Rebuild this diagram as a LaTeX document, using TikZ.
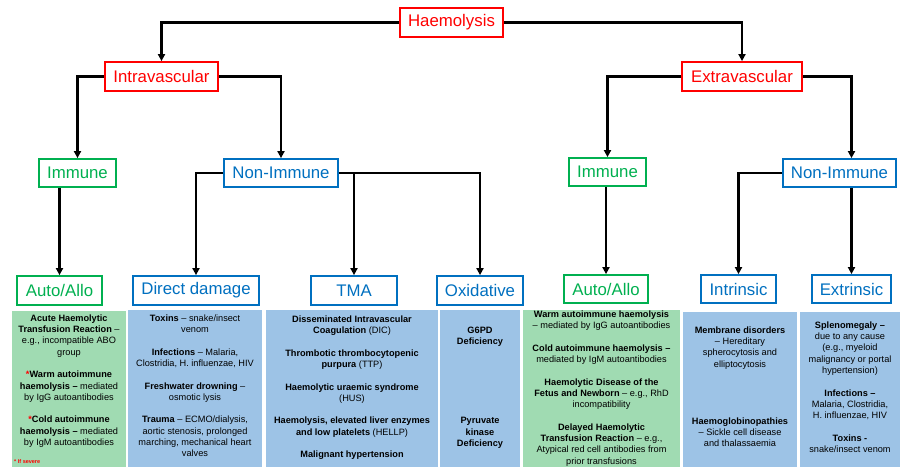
\documentclass[tikz,border=0pt]{standalone}
\usepackage{fontspec}
\setmainfont{Liberation Sans}
\usetikzlibrary{arrows.meta}
\definecolor{hred}{RGB}{255,0,0}
\definecolor{hgreen}{RGB}{0,176,80}
\definecolor{hblue}{RGB}{0,112,192}
\definecolor{gfill}{RGB}{160,219,178}
\definecolor{bfill}{RGB}{157,195,230}
\begin{document}
\begin{tikzpicture}[x=1pt,y=-1pt,
lab/.style={draw, line width=1.8pt, fill=white, inner sep=0pt, font=\fontsize{16.8}{18}\selectfont},
redlab/.style={lab, draw=hred, text=hred},
grnlab/.style={lab, draw=hgreen, text=hgreen},
blulab/.style={lab, draw=hblue, text=hblue},
card/.style={inner sep=0pt, draw=none},
info/.style={inner sep=0pt, align=center, anchor=north, text=black, font=\fontsize{9.2}{11.3}\selectfont},
arr/.style={line width=2.2pt, -{Triangle[length=7pt,width=7pt]}}]
\useasboundingbox (0,0) rectangle (904,472);
\node[redlab, minimum width=103, minimum height=29] (haem) at (451.5,22.5){Haemolysis};
\node[redlab, minimum width=113, minimum height=29] (intra) at (161.5,76.5){Intravascular};
\node[redlab, minimum width=120, minimum height=29] (extra) at (742,76.5){Extravascular};
\draw[arr](haem.west) -| (intra.north);
\draw[arr](haem.east) -| (extra.north);
\node[grnlab, minimum width=77, minimum height=28] (imm1) at (77.5,173){Immune};
\node[blulab, minimum width=114, minimum height=28] (non1) at (281,173){Non-Immune};
\draw[arr](intra.west) -| (imm1.north);
\draw[arr](intra.east) -| (non1.north);
\node[grnlab, minimum width=77, minimum height=28] (imm2) at (607.5,172){Immune};
\node[blulab, minimum width=113, minimum height=28] (non2) at (839.5,173){Non-Immune};
\node[grnlab, minimum width=85, minimum height=29] (aa1) at (59.5,290.5){Auto/Allo};
\draw[arr](imm1.south -| aa1.north) -- (aa1.north);
\node[blulab, minimum width=126, minimum height=29] (dmg) at (196,290.5){Direct damage};
\node[blulab, minimum width=86, minimum height=29] (tma) at (354,290.5){TMA};
\node[blulab, minimum width=86, minimum height=29] (oxi) at (480,290.5){Oxidative};
\draw[arr](non1.west) -| (dmg.north);
\draw[arr](non1.east -| tma.north) -- (tma.north);
\draw[arr](non1.east) -| (oxi.north);
\node[grnlab, minimum width=84, minimum height=28] (aa2) at (606,289){Auto/Allo};
\node[blulab, minimum width=75, minimum height=28] (intr) at (738.5,289){Intrinsic};
\node[blulab, minimum width=79, minimum height=28] (extr) at (851.5,289){Extrinsic};
\draw[arr](extra.west) -| (imm2.north);
\draw[arr](extra.east) -| (non2.north -| extr.north);
\draw[arr](imm2.south -| aa2.north) -- (aa2.north);
\draw[arr](non2.west) -| (intr.north);
\draw[arr](non2.south -| extr.north) -- (extr.north);
\node[card, fill=gfill, minimum width=114, minimum height=156] (b1) at (69,389){};
\node[info] (t1) at (69,314.4){\textbf{Acute Haemolytic}\\ \textbf{Transfusion Reaction} --\\ e.g., incompatible ABO\\ group\\[11.3pt] \textcolor{hred}{\textbf{*}}\textbf{Warm autoimmune}\\ \textbf{haemolysis --} mediated\\ by IgG autoantibodies\\[11.3pt] \textcolor{hred}{\textbf{*}}\textbf{Cold autoimmune}\\ \textbf{haemolysis --} mediated\\ by IgM autoantibodies};
\node[anchor=west, inner sep=0pt, text=hred, font=\fontsize{5.5}{6}\selectfont\bfseries] (sev) at (14,462){* If severe};
\node[card, fill=bfill, minimum width=134, minimum height=157] (b2) at (195,388.5){};
\node[info] (t2) at (195,314.4){\textbf{Toxins} -- snake/insect\\ venom\\[11.3pt] \textbf{Infections} -- Malaria,\\ Clostridia, H. influenzae, HIV\\[11.3pt] \textbf{Freshwater drowning} --\\ osmotic lysis\\[11.3pt] \textbf{Trauma} -- ECMO/dialysis,\\ aortic stenosis, prolonged\\ marching, mechanical heart\\ valves};
\node[card, fill=bfill, minimum width=172, minimum height=157] (b3) at (352,388.5){};
\node[info] (t3) at (352,315.4){\textbf{Disseminated Intravascular}\\ \textbf{Coagulation} (DIC)\\[11.3pt] \textbf{Thrombotic thrombocytopenic}\\ \textbf{purpura} (TTP)\\[11.3pt] \textbf{Haemolytic uraemic syndrome}\\ (HUS)\\[11.3pt] \textbf{Haemolysis, elevated liver enzymes}\\ \textbf{and low platelets} (HELLP)\\[11.3pt] \textbf{Malignant hypertension}};
\node[card, fill=bfill, minimum width=80, minimum height=157] (b4) at (480,388.5){};
\node[info, font=\fontsize{9.2}{11.3}\selectfont\bfseries] (t4a) at (480,326.4){G6PD\\ Deficiency};
\node[info, font=\fontsize{9.2}{11.3}\selectfont\bfseries] (t4b) at (480,417.4){Pyruvate\\ kinase\\ Deficiency};
\node[card, fill=gfill, minimum width=157, minimum height=157] (b5) at (601.5,388.5){};
\node[info] (t5) at (601.5,310.5){\textbf{Warm autoimmune haemolysis}\\ -- mediated by IgG autoantibodies\\[11.3pt] \textbf{Cold autoimmune haemolysis --}\\ mediated by IgM autoantibodies\\[11.3pt] \textbf{Haemolytic Disease of the}\\ \textbf{Fetus and Newborn} -- e.g., RhD\\ incompatibility\\[11.3pt] \textbf{Delayed Haemolytic}\\ \textbf{Transfusion Reaction} -- e.g.,\\ Atypical red cell antibodies from\\ prior transfusions};
\node[card, fill=bfill, minimum width=114, minimum height=155] (b6) at (740,389.5){};
\node[info] (t6a) at (740,326.4){\textbf{Membrane disorders}\\ -- Hereditary\\ spherocytosis and\\ elliptocytosis};
\node[info] (t6b) at (740,417.4){\textbf{Haemoglobinopathies}\\ -- Sickle cell disease\\ and thalassaemia};
\node[card, fill=bfill, minimum width=100, minimum height=155] (b7) at (850,389.5){};
\node[info] (t7) at (850,321.4){\textbf{Splenomegaly --}\\ due to any cause\\ (e.g., myeloid\\ malignancy or portal\\ hypertension)\\[11.3pt] \textbf{Infections --}\\ Malaria, Clostridia,\\ H. influenzae, HIV\\[11.3pt] \textbf{Toxins -}\\ snake/insect venom};
\end{tikzpicture}
\end{document}
